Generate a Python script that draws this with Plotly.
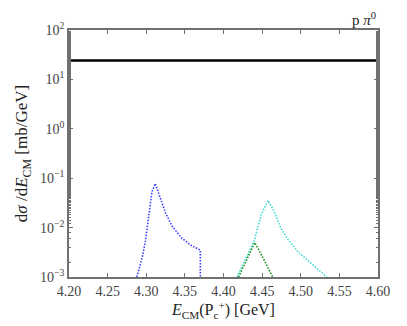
import plotly.graph_objects as go

# Energy scan E_CM (GeV) and dsigma/dE (mb/GeV)
total_x = [4.20, 4.60]
total_y = [24.0, 24.0]

blue_x = [4.2878, 4.2948, 4.2990, 4.3032, 4.3074, 4.3116, 4.3166, 4.3250,
          4.3335, 4.3460, 4.3587, 4.3700, 4.3700]
blue_y = [0.0010, 0.0025, 0.0054, 0.0157, 0.0530, 0.0780, 0.0460, 0.0197,
          0.0107, 0.0061, 0.0043, 0.0035, 0.0001]

cyan_x = [4.4174, 4.4280, 4.4397, 4.4489, 4.4577, 4.4657, 4.4740, 4.4846,
          4.4972, 4.5140, 4.5337]
cyan_y = [0.0010, 0.00215, 0.0054, 0.0183, 0.0353, 0.0213, 0.0099, 0.0054,
          0.00315, 0.00185, 0.0010]

green_x = [4.4195, 4.4300, 4.4405, 4.4530, 4.4636]
green_y = [0.0010, 0.00215, 0.00498, 0.00215, 0.0010]

x_ticks = [4.20, 4.25, 4.30, 4.35, 4.40, 4.45, 4.50, 4.55, 4.60]
y_ticks = [1e-3, 1e-2, 1e-1, 1, 10, 100]
y_ticktext = ["10<sup>−3</sup>", "10<sup>−2</sup>", "10<sup>−1</sup>",
              "10<sup>0</sup>", "10<sup>1</sup>", "10<sup>2</sup>"]

FONT = "'Liberation Serif', 'DejaVu Serif', serif"
AX = "#707070"
DOT = "1.5px,1.5px"

fig = go.Figure()
fig.add_trace(go.Scatter(x=total_x, y=total_y, mode="lines",
                         line=dict(color="black", width=2.5)))
fig.add_trace(go.Scatter(x=blue_x, y=blue_y, mode="lines",
                         line=dict(color="#3c3cff", width=1.6, dash=DOT)))
fig.add_trace(go.Scatter(x=cyan_x, y=cyan_y, mode="lines",
                         line=dict(color="#3fd8d8", width=1.6, dash=DOT)))
fig.add_trace(go.Scatter(x=green_x, y=green_y, mode="lines",
                         line=dict(color="#1a8a1a", width=1.6, dash=DOT)))

fig.add_annotation(x=1, y=1, xref="paper", yref="paper", xanchor="right",
                   yanchor="bottom", showarrow=False,
                   text="p <i>π</i><sup>0</sup>",
                   font=dict(family=FONT, size=15, color="#222"))

# the page body adds 8px, so the size and margins are trimmed to match
fig.update_layout(
    width=399, height=318,
    margin=dict(l=53, r=29, t=18, b=49),
    plot_bgcolor="white", paper_bgcolor="white",
    showlegend=False,
    font=dict(family=FONT, size=14, color="#444"),
    xaxis=dict(range=[4.2, 4.6], tickvals=x_ticks,
               ticktext=[f"{v:.2f}" for v in x_ticks],
               ticks="inside", ticklen=4, tickcolor=AX, mirror="ticks",
               showline=True, linecolor=AX, linewidth=1.5, showgrid=False,
               zeroline=False,
               title=dict(text="<i>E</i><sub>CM</sub>(P<sub>c</sub><sup>+</sup>) [GeV]",
                          font=dict(size=16, color="#222"), standoff=2)),
    yaxis=dict(type="log", range=[-3, 2], tickvals=y_ticks,
               ticktext=y_ticktext,
               ticks="inside", ticklen=4, tickcolor=AX, mirror="ticks",
               minor=dict(ticks="inside", ticklen=2, tickcolor=AX,
                          showgrid=False),
               showline=True, linecolor=AX, linewidth=1.5, showgrid=False,
               zeroline=False,
               title=dict(text="d<i>σ</i> /d<i>E</i><sub>CM</sub> [mb/GeV]",
                          font=dict(size=17, color="#222"), standoff=8)),
)

fig.write_html("out.html")
